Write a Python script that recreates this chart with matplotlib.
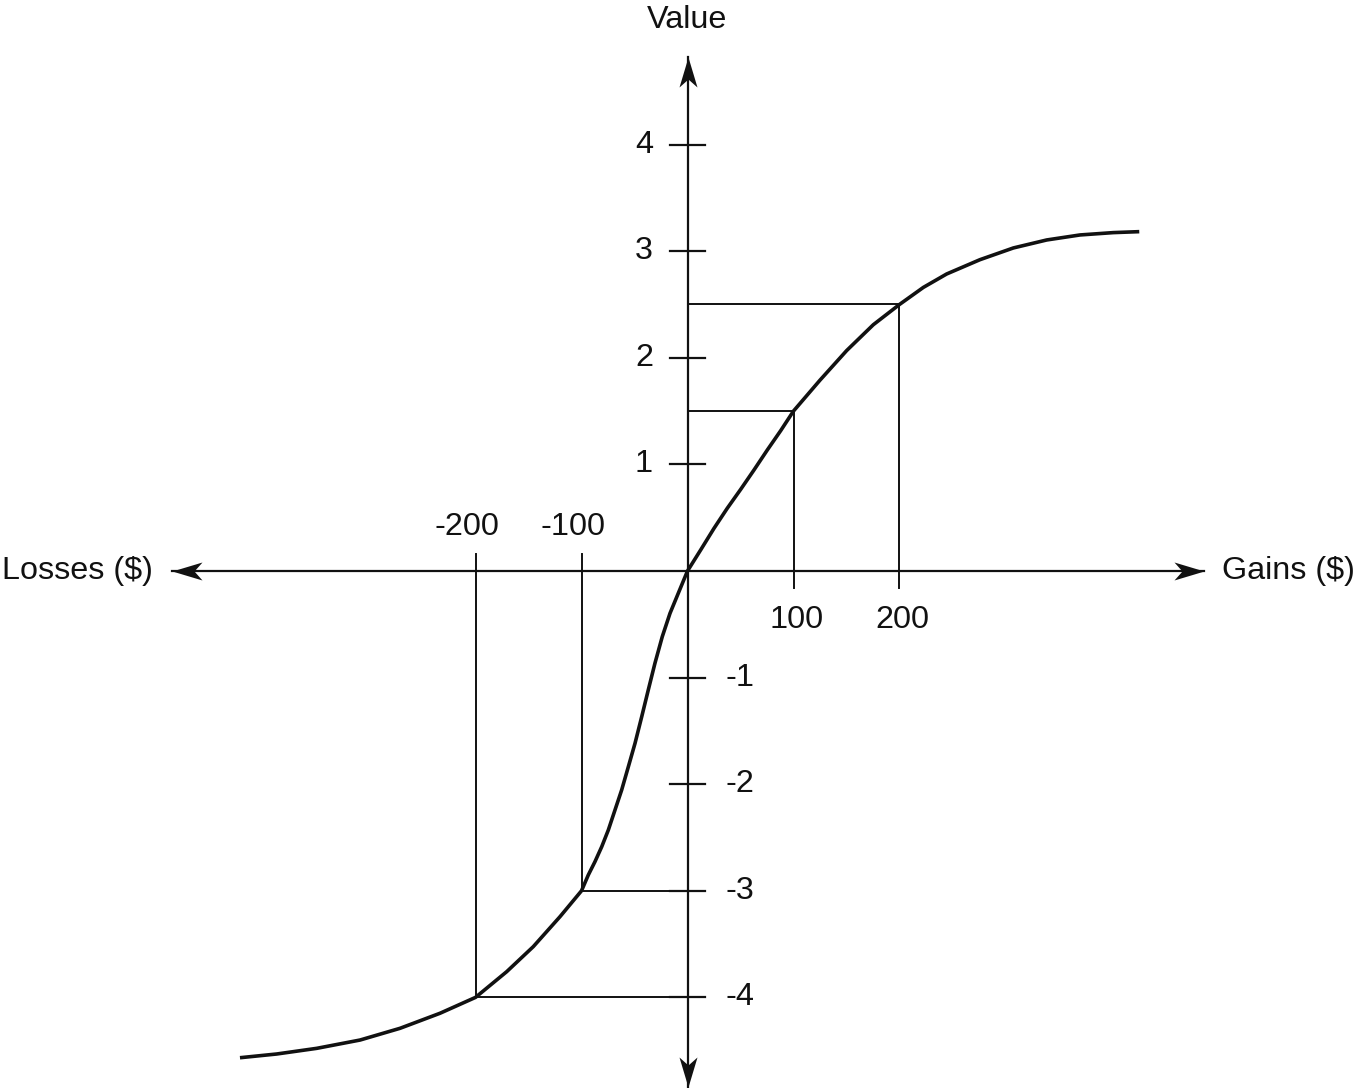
import matplotlib.pyplot as plt
from matplotlib.path import Path

plt.rcParams['font.family'] = ['Liberation Sans', 'DejaVu Sans']

# value curve (gains/losses in $, value units)
curve_x = [-422.2, -387.5, -349.8, -308.9, -271.2, -233.5, -200, -170.6, -145.5,
           -120.3, -100, -93.6, -87.3, -80.9, -74.7, -68.4, -62.1, -55.8, -49.5,
           -43.2, -37.0, -30.7, -23.8, -16.5, -8.7, 0, 12.4, 25, 37.5, 50.2, 62.7,
           75.3, 87.9, 100, 125, 150.2, 175.3, 200, 222.5, 244.5, 275.9, 307.4,
           338.9, 370.3, 401.7, 426.2]
curve_y = [-4.566, -4.531, -4.478, -4.40, -4.29, -4.149, -4.0, -3.759, -3.524,
           -3.243, -3.0, -2.852, -2.727, -2.586, -2.430, -2.242, -2.054, -1.836,
           -1.616, -1.367, -1.116, -0.865, -0.616, -0.397, -0.209, 0, 0.197, 0.40,
           0.588, 0.766, 0.947, 1.135, 1.316, 1.5, 1.79, 2.068, 2.31, 2.5, 2.66,
           2.786, 2.92, 3.03, 3.105, 3.152, 3.174, 3.183]

# marked points on the curve
ref_x = [-200, -100, 100, 200]
ref_y = [-4, -3, 1.5, 2.5]

x_ticks = [-200, -100, 100, 200]
x_labels = ['-200', '-100', '100', '200']
y_ticks = [4, 3, 2, 1, -1, -2, -3, -4]
y_labels = ['4', '3', '2', '1', '-1', '-2', '-3', '-4']

ink = '#111111'
fs = 23.3

fig = plt.figure(figsize=(13.59, 10.88), dpi=100)
ax = fig.add_axes([0, 0, 1, 1])
ax.set_xlim(-648.6, 633.5)
ax.set_ylim(-4.850, 5.356)
ax.axis('off')

# tick half-lengths in data units (about 17 px)
tx = 16.5
ty = 0.16


def head(dx, dy):
    # notched arrowhead pointing along (dx, dy), tip at the origin of the marker
    pts = [(0, 0), (-30, -9), (-22, 0), (-30, 9), (0, 0)]
    verts = [(px * dx - py * dy, px * dy + py * dx) for px, py in pts]
    codes = [Path.MOVETO, Path.LINETO, Path.LINETO, Path.LINETO, Path.CLOSEPOLY]
    return Path(verts, codes)


# axes with arrowheads
ax.plot([-486.5, 487.3], [0, 0], color=ink, lw=1.6)
ax.plot([0, 0], [-4.84, 4.82], color=ink, lw=1.6)
for (x, y), d in [((487.3, 0), (1, 0)), ((-486.5, 0), (-1, 0)),
                  ((0, 4.82), (0, 1)), ((0, -4.84), (0, -1))]:
    ax.plot([x], [y], marker=head(*d), markersize=43.2, color=ink,
            markeredgewidth=0, linestyle='none')

# y ticks
for v, lab in zip(y_ticks, y_labels):
    ax.plot([-tx, tx], [v, v], color=ink, lw=1.6)
    if v > 0:
        ax.text(-32.5, v, lab, ha='right', va='center', fontsize=fs, color=ink)
    else:
        ax.text(35.4, v, lab, ha='left', va='center', fontsize=fs, color=ink)

# x tick labels
for v, lab in zip(x_ticks, x_labels):
    if v > 0:
        ax.text(v + 3, -0.46, lab, ha='center', va='center', fontsize=fs, color=ink)
    else:
        ax.text(v - 8, 0.41, lab, ha='center', va='center', fontsize=fs, color=ink)

# guide lines from the axes to the curve
for x, y in zip(ref_x, ref_y):
    if x > 0:
        ax.plot([x, x], [-ty, y], color=ink, lw=1.4)
        ax.plot([0, x], [y, y], color=ink, lw=1.4)
    else:
        ax.plot([x, x], [ty, y], color=ink, lw=1.4)
        ax.plot([x, tx], [y, y], color=ink, lw=1.4)

ax.plot(curve_x, curve_y, color=ink, lw=2.6, solid_capstyle='butt',
        solid_joinstyle='round')

ax.text(0, 5.17, 'Value', ha='center', va='center', fontsize=fs, color=ink)
ax.text(-504.2, 0, 'Losses ($)', ha='right', va='center', fontsize=fs, color=ink)
ax.text(504.4, 0, 'Gains ($)', ha='left', va='center', fontsize=fs, color=ink)

fig.savefig('out.png', dpi=100)
